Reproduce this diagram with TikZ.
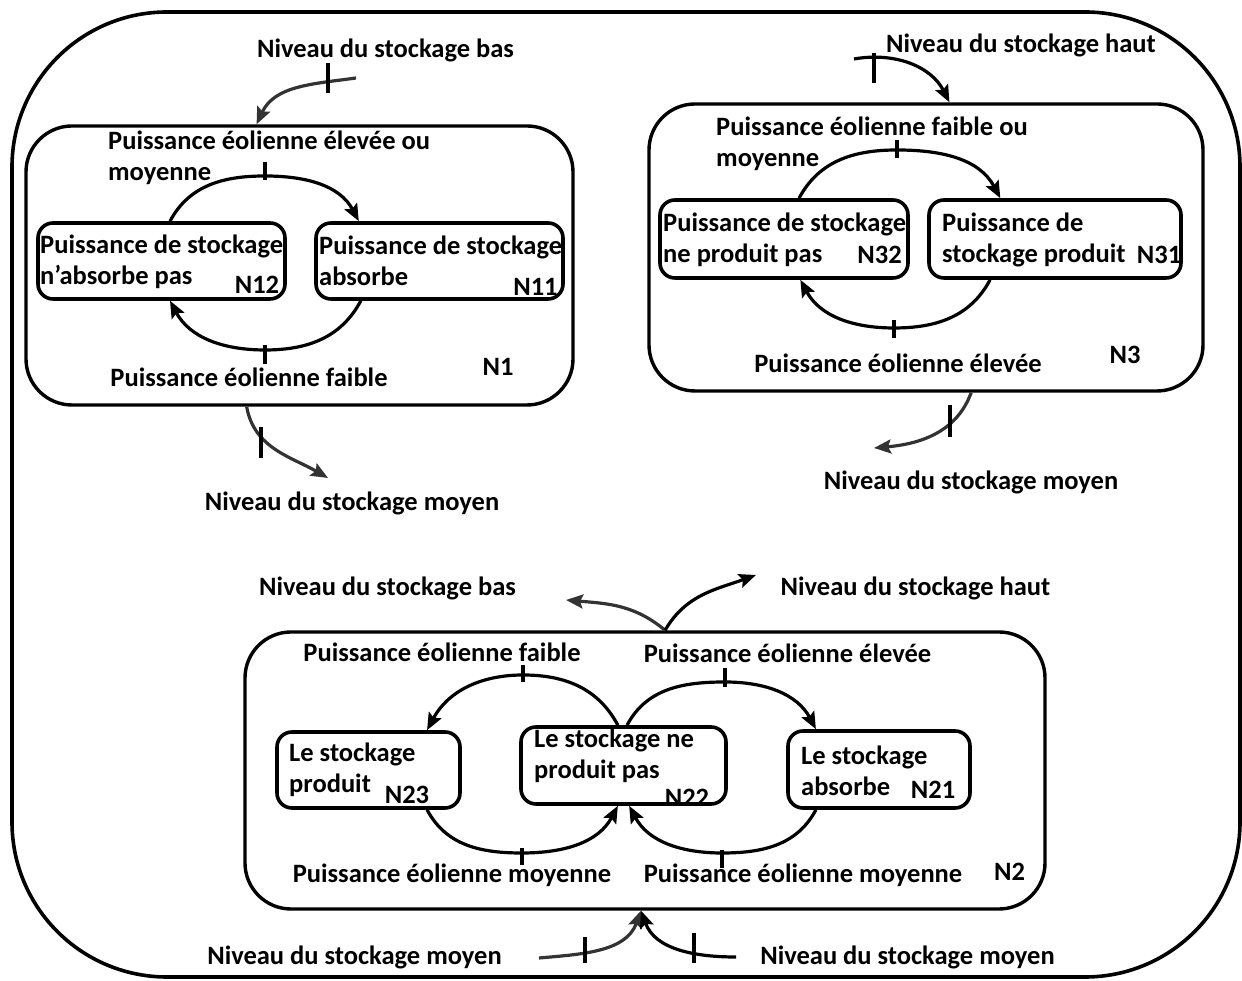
\documentclass[tikz,border=0pt]{standalone}
\usepackage{fontspec}
\setmainfont{Carlito}
\usetikzlibrary{arrows.meta,calc}
\begin{document}
\begin{tikzpicture}[x=1pt,y=1pt,
  font=\fontsize{26.5}{31}\selectfont\bfseries,
  every node/.style={inner sep=0pt},
  outerframe/.style={draw, line width=3.6pt, rounded corners=155pt},
  bigbox/.style={draw, line width=3.4pt, rounded corners=46pt},
  smallbox/.style={draw, line width=3.6pt, rounded corners=15pt},
  flow/.style={line width=3.2pt, -{Stealth[length=17pt,width=14pt,inset=3pt]}},
  flowgrey/.style={flow, draw=black!80, -{Stealth[length=17pt,width=14pt,inset=3pt,fill=black!80]}},
  tickmark/.style={line width=3.6pt},
  txt/.style={align=left, anchor=west}
]
\useasboundingbox (0,0) rectangle (1242,981);
\draw[outerframe] (12,4) rectangle (1240,969);

% big boxes
\node[bigbox, minimum width=547, minimum height=279] (n1) at (299.5,715.5) {};
\node[bigbox, minimum width=554, minimum height=287] (n3) at (926,733.5) {};
\node[bigbox, minimum width=800, minimum height=277] (n2) at (645,210.5) {};

% small boxes
\node[smallbox, minimum width=247, minimum height=76] (n12) at (161.5,720) {};
\node[smallbox, minimum width=247, minimum height=76] (n11) at (439.5,720) {};
\node[smallbox, minimum width=248, minimum height=78] (n32) at (784,742) {};
\node[smallbox, minimum width=252, minimum height=78] (n31) at (1055,742) {};
\node[smallbox, minimum width=183, minimum height=76] (n23) at (368.5,211) {};
\node[smallbox, minimum width=205, minimum height=77] (n22) at (623.5,215.5) {};
\node[smallbox, minimum width=182, minimum height=77] (n21) at (879,211.5) {};

% box texts
\node[txt] (tx12) at (40,719) {Puissance de stockage\\n’absorbe pas};
\node[txt] (tx11) at (319,720.5) {Puissance de stockage\\absorbe};
\node[txt] (tx32) at (663,741) {Puissance de stockage\\ne produit pas};
\node[txt] (tx31) at (942,741) {Puissance de\\stockage produit};
\node[txt] (tx23) at (289,211) {Le stockage\\produit};
\node[txt] (tx22) at (534,225) {Le stockage ne\\produit pas};
\node[txt] (tx21) at (801,210) {Le stockage\\absorbe};

% labels
\node (l12) at (257,696) {N12};
\node (l11) at (535.5,694) {N11};
\node (l32) at (879.5,726) {N32};
\node (l31) at (1159,726) {N31};
\node (l23) at (407,186) {N23};
\node (l22) at (687,183) {N22};
\node (l21) at (933,191) {N21};
\node (l1) at (498,614) {N1};
\node (l3) at (1125,626) {N3};
\node (l2) at (1009.5,109) {N2};

% other texts
\node (a1) at (385.5,931) {Niveau du stockage bas};
\node[txt] (a2) at (108,823.5) {Puissance éolienne élevée ou\\moyenne};
\node (a3) at (249,604) {Puissance éolienne faible};
\node (a4) at (352,478) {Niveau du stockage moyen};
\node (b1) at (1021,936) {Niveau du stockage haut};
\node[txt] (b2) at (716,837) {Puissance éolienne faible ou\\moyenne};
\node (b3) at (898,618) {Puissance éolienne élevée};
\node (b4) at (971,499) {Niveau du stockage moyen};
\node (c1) at (387.5,393) {Niveau du stockage bas};
\node (c2) at (915.5,393) {Niveau du stockage haut};
\node (c3) at (442,329) {Puissance éolienne faible};
\node (c4) at (787.5,328) {Puissance éolienne élevée};
\node (c5) at (452,106) {Puissance éolienne moyenne};
\node (c6) at (803,106) {Puissance éolienne moyenne};
\node (c7) at (354.5,24) {Niveau du stockage moyen};
\node (c8) at (907.5,24) {Niveau du stockage moyen};

% ---- N1 loop
\coordinate (t11) at (265,805);
\coordinate (b11) at (265,631);
\draw[flow] ($(n12.north west)!0.534!(n12.north east)$) to[out=62,in=180] (t11) to[out=0,in=118] ($(n11.north west)!0.178!(n11.north east)$);
\draw[flow] ($(n11.south west)!0.186!(n11.south east)$) to[out=-118,in=0] (b11) to[out=180,in=-62] ($(n12.south west)!0.534!(n12.south east)$);
\draw[tickmark] (265,801) -- (265,819);
\draw[tickmark] (265,636) -- (265,617);

% N1 outer arrows
\coordinate (s1) at (356,903);
\coordinate (e1) at (328,503);
\draw[flowgrey] (s1) to[out=188,in=65] ($(n1.north west)!0.422!(n1.north east)$);
\draw[flowgrey] ($(n1.south west)!0.404!(n1.south east)$) to[out=-80,in=150] (e1);
\draw[tickmark] (328,918) -- (328,888);
\draw[tickmark] (261,554) -- (261,523);

% ---- N3 loop
\coordinate (t31) at (897,831);
\coordinate (b31) at (894,653);
\draw[flow] ($(n32.north west)!0.56!(n32.north east)$) to[out=62,in=180] (t31) to[out=0,in=118] ($(n31.north west)!0.286!(n31.north east)$);
\draw[flow] ($(n31.south west)!0.246!(n31.south east)$) to[out=-118,in=0] (b31) to[out=180,in=-62] ($(n32.south west)!0.565!(n32.south east)$);
\draw[tickmark] (897,823) -- (897,841);
\draw[tickmark] (894,661) -- (894,643);

% N3 outer arrows
\coordinate (s3) at (854,922);
\coordinate (e3) at (874,533);
\draw[flow] (s3) to[out=10,in=117] ($(n3.north west)!0.542!(n3.north east)$);
\draw[flowgrey] ($(n3.south west)!0.581!(n3.south east)$) to[out=-110,in=5] (e3);
\draw[tickmark] (874,928) -- (874,898);
\draw[tickmark] (950,576) -- (950,544);

% ---- N2 loops
\coordinate (t21) at (523,306);
\coordinate (t22) at (725,299);
\coordinate (b21) at (522,128);
\coordinate (b22) at (722,128);
\draw[flow] ($(n22.north west)!0.473!(n22.north east)$) to[out=118,in=0] (t21) to[out=180,in=62] ($(n23.north west)!0.814!(n23.north east)$);
\draw[flow] ($(n22.north west)!0.517!(n22.north east)$) to[out=62,in=180] (t22) to[out=0,in=118] ($(n21.north west)!0.16!(n21.north east)$);
\draw[flow] ($(n23.south west)!0.814!(n23.south east)$) to[out=-62,in=180] (b21) to[out=0,in=-118] ($(n22.south west)!0.473!(n22.south east)$);
\draw[flow] ($(n21.south west)!0.16!(n21.south east)$) to[out=-118,in=0] (b22) to[out=180,in=-62] ($(n22.south west)!0.527!(n22.south east)$);
\draw[tickmark] (523,299) -- (523,316);
\draw[tickmark] (725,294) -- (725,313);
\draw[tickmark] (522,133) -- (522,116);
\draw[tickmark] (722,131) -- (722,113);

% N2 outer arrows
\coordinate (e2a) at (566,381);
\coordinate (e2b) at (756,406);
\coordinate (s2a) at (539,23);
\coordinate (s2b) at (736,24);
\draw[flowgrey] ($(n2.north west)!0.525!(n2.north east)$) to[out=140,in=-5] (e2a);
\draw[flow] ($(n2.north west)!0.525!(n2.north east)$) to[out=60,in=200] (e2b);
\draw[flowgrey] (s2a) to[out=5,in=-110] ($(n2.south west)!0.495!(n2.south east)$);
\draw[flow] (s2b) to[out=180,in=-70] ($(n2.south west)!0.495!(n2.south east)$);
\draw[tickmark] (585,44) -- (585,18);
\draw[tickmark] (694,48) -- (694,18);
\end{tikzpicture}
\end{document}
